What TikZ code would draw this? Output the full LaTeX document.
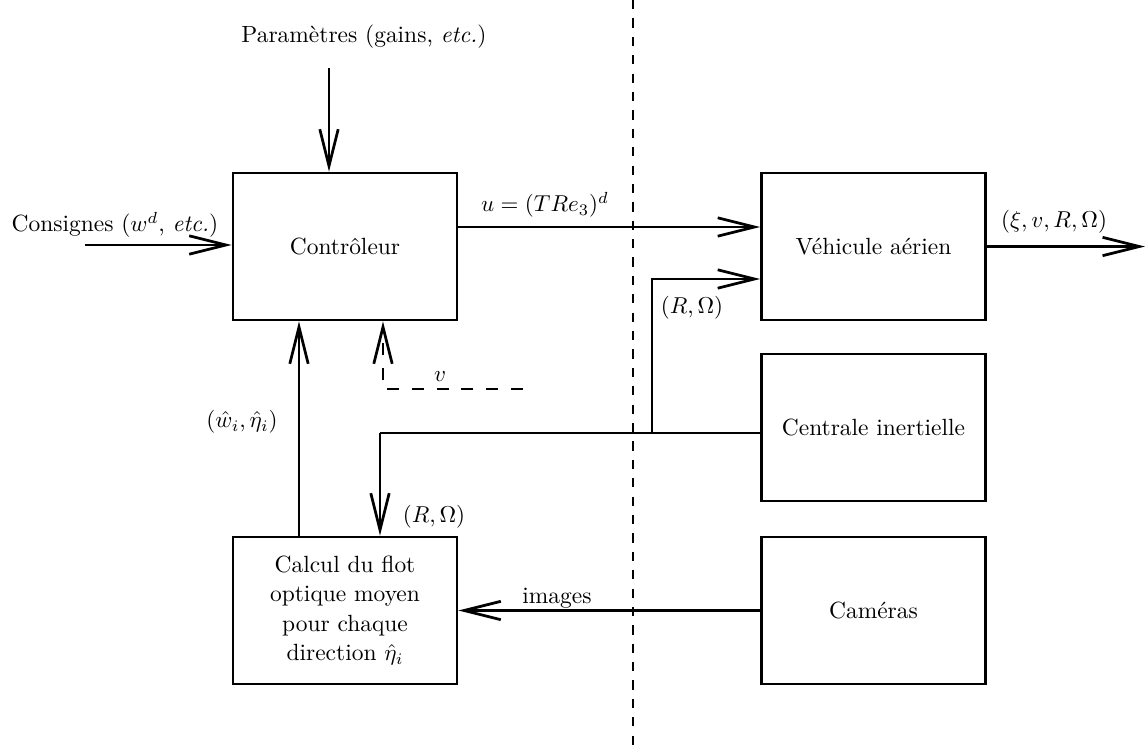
\documentclass[tikz,border=0pt]{standalone}
\usetikzlibrary{arrows.meta}
\begin{document}
\begin{tikzpicture}[x=0.435pt,y=-0.435pt,
  font=\fontsize{10.2pt}{12.8pt}\selectfont,
  blk/.style={draw,line width=1.2pt,minimum width=97.4pt,minimum height=63.9pt,inner sep=0pt,align=center},
  conn/.style={line width=1.2pt},
  arr/.style={conn,-{Straight Barb[length=16pt,width=8pt,line width=1.2pt]}},
  lbl/.style={inner sep=0pt},
  vdash/.style={dash pattern=on 5.2pt off 5.6pt}
]
\useasboundingbox (0,0) rectangle (1146,747);
% blocks
\node[blk] (ctrl) at (345,246.5) {Contrôleur};
\node[blk] (veh) at (873.5,246.5) {Véhicule aérien};
\node[blk] (imu) at (873.5,427.5) {Centrale inertielle};
\node[blk] (cam) at (873.5,610.5) {Caméras};
\node[blk] (calc) at (345,610.5) {Calcul du flot\\optique moyen\\pour chaque\\direction $\hat\eta_i$};
% separator
\coordinate (sTop) at (633,0);
\coordinate (sBot) at (633,747);
\draw[line width=0.6pt,dash pattern=on 4pt off 4pt] (sTop) -- (sBot);
% parameters
\node[lbl] (par) at (364,37) {Paramètres (gains, \emph{etc.})};
\coordinate (pin) at (329,68);
\draw[arr] (pin) -- (pin |- ctrl.north);
% consignes
\node[lbl] (cons) at (115,225) {Consignes ($w^d$, \emph{etc.})};
\coordinate (cin) at (85,245);
\draw[arr] (cin) -- (cin -| ctrl.west);
% u
\coordinate (uy) at (0,227);
\draw[arr] (ctrl.east |- uy) -- (veh.west |- uy);
\node[lbl] (ulbl) at (545,205) {$u=(TRe_3)^d$};
% output
\coordinate (oend) at (1145,246.5);
\draw[arr] (veh.east) -- (oend);
\node[lbl] (olbl) at (1054,222) {$(\xi,v,R,\Omega)$};
% imu branches
\coordinate (iy) at (0,433);
\coordinate (j) at (652,433);
\coordinate (k) at (380,433);
\coordinate (ry) at (0,279);
\draw[conn] (imu.west |- iy) -- (k);
\draw[arr] (k) -- (k |- calc.north);
\draw[arr] (j) |- (veh.west |- ry);
\node[lbl] (r1) at (692,308) {$(R,\Omega)$};
\node[lbl] (r2) at (434,517) {$(R,\Omega)$};
% calc to ctrl
\coordinate (cx) at (299,0);
\draw[arr] (calc.north -| cx) -- (ctrl.south -| cx);
\node[lbl] (wl) at (242,422) {$(\hat w_i,\hat\eta_i)$};
% images
\draw[arr] (cam.west) -- (calc.east);
\node[lbl] (img) at (557,598) {images};
% dashed v
\coordinate (vend) at (523,389);
\coordinate (vx) at (383,0);
\draw[arr,vdash] (vend) -| (ctrl.south -| vx);
\node[lbl] (vl) at (440,377) {$v$};
\end{tikzpicture}
\end{document}
